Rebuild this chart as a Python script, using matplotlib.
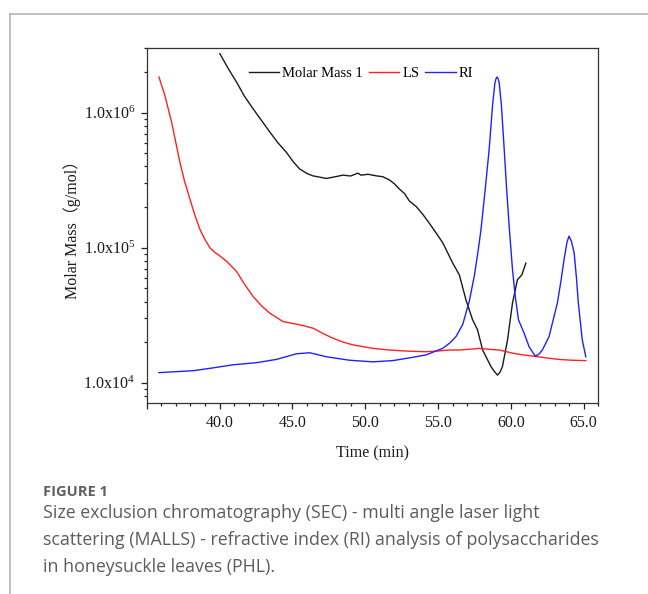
import math
import matplotlib
matplotlib.use('Agg')
import matplotlib.pyplot as plt
from matplotlib.lines import Line2D
from matplotlib.ticker import LogLocator, FixedLocator, FuncFormatter, NullFormatter, MultipleLocator

plt.rcParams['font.family'] = ['Liberation Serif', 'Noto Sans CJK SC', 'DejaVu Sans']
plt.rcParams['mathtext.default'] = 'regular'

# Molar Mass 1 (black)
mm_time = [40.02, 40.6, 41.16, 41.7, 42.3, 42.9, 43.45, 44.0, 44.59, 45.05, 45.5, 46.0, 46.4, 46.9, 47.33, 47.9, 48.47,
           49.0, 49.5, 49.7, 50.2, 50.75, 51.2, 51.66, 52.0, 52.35, 52.7, 53.03, 53.5,
           53.95, 54.4, 54.86, 55.32, 55.7, 56.0, 56.46, 56.92, 57.37, 57.71, 58.06,
           58.4, 58.63, 58.85, 59.08, 59.25, 59.42, 59.77, 60.11, 60.45, 60.75, 61.03]
mm_mass = [2.74e6, 2.12e6, 1.69e6, 1.33e6, 1.07e6, 8.7e5, 7.2e5, 6.0e5, 5.09e5, 4.35e5, 3.83e5, 3.55e5, 3.41e5, 3.33e5, 3.26e5, 3.35e5, 3.45e5,
           3.40e5, 3.57e5, 3.45e5, 3.50e5, 3.41e5, 3.36e5, 3.18e5, 2.98e5, 2.72e5, 2.52e5, 2.22e5, 2.02e5,
           1.77e5, 1.52e5, 1.29e5, 1.09e5, 9.0e4, 7.73e4, 6.3e4, 4.1e4, 2.93e4, 2.47e4, 1.75e4,
           1.48e4, 1.32e4, 1.22e4, 1.14e4, 1.20e4, 1.32e4, 2.08e4, 3.9e4, 5.8e4, 6.3e4, 7.7e4]

# LS (red)
ls_time = [35.84, 36.25, 36.71, 37.28, 37.6, 37.97, 38.3, 38.65, 39.0, 39.34, 39.7, 40.02, 40.48, 41.16, 41.7, 42.3, 42.9, 43.45,
           44.36, 45.5, 46.41, 47.1, 47.78, 48.5, 49.15, 50.52, 51.4, 52.35, 53.3, 54.18,
           55.0, 55.77, 56.46, 57.37, 57.83, 58.5, 59.2, 60.11, 60.8, 61.48, 62.4, 63.31, 64.2, 65.14]
ls_mass = [1.84e6, 1.34e6, 8.5e5, 4.29e5, 3.1e5, 2.29e5, 1.75e5, 1.37e5, 1.15e5, 1.0e5, 9.2e4, 8.7e4, 7.95e4, 6.7e4, 5.4e4, 4.36e4, 3.7e4, 3.28e4,
           2.84e4, 2.69e4, 2.54e4, 2.32e4, 2.14e4, 2.0e4, 1.91e4, 1.80e4, 1.76e4, 1.73e4, 1.71e4, 1.70e4,
           1.72e4, 1.75e4, 1.75e4, 1.78e4, 1.80e4, 1.77e4, 1.75e4, 1.66e4, 1.61e4, 1.58e4, 1.53e4, 1.49e4, 1.47e4, 1.46e4]

# RI (blue)
ri_time = [35.84, 38.2, 39.34, 40.93, 42.53, 43.9, 45.27, 46.19, 47.33, 48.92, 50.52, 51.89,
           53.03, 54.18, 55.32, 55.8, 56.23, 56.69, 57.14, 57.49, 57.75, 57.95, 58.25, 58.51,
           58.74, 58.9, 58.98, 59.05, 59.12, 59.2, 59.35, 59.54, 59.7, 59.88, 60.11, 60.3, 60.52, 60.91,
           61.25, 61.66, 61.9, 62.16, 62.62, 63.19, 63.45, 63.65, 63.85, 63.99, 64.15, 64.34, 64.5, 64.63, 64.9, 65.14]
ri_mass = [1.19e4, 1.23e4, 1.28e4, 1.36e4, 1.41e4, 1.49e4, 1.64e4, 1.67e4, 1.56e4, 1.47e4, 1.43e4, 1.46e4,
           1.53e4, 1.61e4, 1.80e4, 1.97e4, 2.2e4, 2.7e4, 4.0e4, 6.2e4, 9.5e4, 1.37e5, 2.8e5, 5.38e5,
           1.13e6, 1.65e6, 1.79e6, 1.84e6, 1.79e6, 1.65e6, 1.13e6, 5.38e5, 2.8e5, 1.45e5, 6.9e4, 4.37e4, 2.93e4, 2.33e4,
           1.85e4, 1.58e4, 1.62e4, 1.75e4, 2.2e4, 3.9e4, 5.8e4, 8.2e4, 1.1e5, 1.22e5, 1.12e5, 9.2e4, 6.0e4, 3.9e4, 2.08e4, 1.56e4]

caption_title = 'FIGURE 1'
caption_lines = ['Size exclusion chromatography (SEC) - multi angle laser light',
                 'scattering (MALLS) - refractive index (RI) analysis of polysaccharides',
                 'in honeysuckle leaves (PHL).']

fig = plt.figure(figsize=(6.48, 5.94), dpi=100)
ax = fig.add_axes([0.2264, 0.3210, 0.6969, 0.5977])

ax.plot(mm_time, mm_mass, color='#1a1a1a', lw=1.0, label='Molar Mass 1')
ax.plot(ls_time, ls_mass, color='#ff2020', lw=1.0, label='LS')
ax.plot(ri_time, ri_mass, color='#2020ff', lw=1.0, label='RI')

ax.set_yscale('log')
ax.set_xlim(35, 66)
ax.set_ylim(7.05e3, 3.0e6)

ax.xaxis.set_major_locator(MultipleLocator(5))
ax.xaxis.set_minor_locator(MultipleLocator(1))
ax.xaxis.set_major_formatter(FuncFormatter(lambda v, p: '%.1f' % v if v >= 40 else ''))
ax.yaxis.set_major_locator(FixedLocator([1e4, 1e5, 1e6]))
ax.yaxis.set_major_formatter(FuncFormatter(lambda v, p: '1.0x10$^{%d}$' % round(math.log10(v))))
ax.yaxis.set_minor_locator(LogLocator(base=10, subs=range(2, 10)))
ax.yaxis.set_minor_formatter(NullFormatter())

ax.tick_params(which='both', direction='out', color='#222222', width=0.9, labelsize=11.5, labelcolor='#1a1a1a')
ax.tick_params(which='major', length=4.5)
ax.tick_params(which='minor', length=2.5)
ax.tick_params(axis='x', pad=4)
ax.tick_params(axis='y', pad=4)
for s in ax.spines.values():
    s.set_color('#333333')
    s.set_linewidth(0.9)

ax.set_xlabel('Time (min)', fontsize=11.5, labelpad=10, color='#1a1a1a')
ax.set_ylabel('Molar Mass（g/mol）', fontsize=11.5, labelpad=2, color='#1a1a1a')

ax.legend(loc='center', bbox_to_anchor=(0.4745, 0.9296), ncol=3, frameon=False,
          fontsize=10.5, handlelength=2.1, handletextpad=0.2, columnspacing=0.4, borderpad=0)

# page border
fig.add_artist(Line2D([10/648, 10/648], [0, 1 - 14/594], transform=fig.transFigure, color='#b0b0b0', lw=1.1))
fig.add_artist(Line2D([10/648, 1], [1 - 14/594, 1 - 14/594], transform=fig.transFigure, color='#b0b0b0', lw=1.1))

fig.text(43/648, 1 - 496/594, caption_title, family='Open Sans', weight='bold', fontsize=10.5,
         color='#606060', va='baseline')
for i, line in enumerate(caption_lines):
    fig.text(43/648, 1 - (518 + 27*i)/594, line, family='Open Sans', fontsize=12.8,
             color='#5c5c5c', va='baseline')

fig.savefig('out.png', dpi=100)
